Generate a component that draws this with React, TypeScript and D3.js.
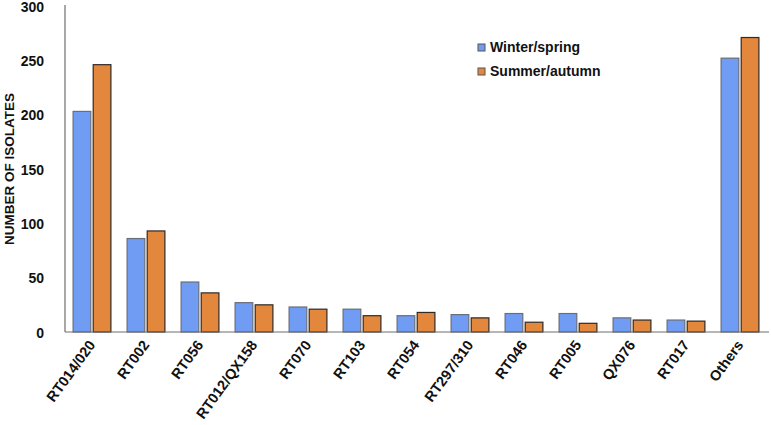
import React from "react";
import * as d3 from "d3";

const categories = ["RT014/020","RT002","RT056","RT012/QX158","RT070","RT103","RT054","RT297/310","RT046","RT005","QX076","RT017","Others"];
const winterSpring = [203,86,46,27,23,21,15,16,17,17,13,11,252];
const summerAutumn = [246,93,36,25,21,15,18,13,9,8,11,10,271];
const seriesNames = ["Winter/spring","Summer/autumn"];
const yTicks = [0,50,100,150,200,250,300];

const W = 771, H = 425;
const left = 65, right = 767, top = 6, bottom = 332;
const font = "Liberation Sans, Arial, sans-serif";

export default function App() {
  const x0 = d3.scaleBand<string>().domain(categories).range([left, right]).paddingInner(0.3).paddingOuter(0.15);
  const x1 = d3.scaleBand<string>().domain(seriesNames).range([0, x0.bandwidth()]).paddingInner(0.12);
  const y = d3.scaleLinear().domain([0, 300]).range([bottom, top]);
  const fills = ["#709cf3", "#e3873c"];
  const strokes = ["#6a6e78", "#2e2a26"];
  const data = [winterSpring, summerAutumn];
  return (
    <div style={{ position: "absolute", left: 0, top: 0 }}>
      <svg width={W} height={H} style={{ display: "block", background: "#fff" }}>
        {categories.map((c, i) => (
          <g key={c}>
            {data.map((s, k) => (
              <rect key={k}
                x={(x0(c) as number) + (x1(seriesNames[k]) as number)}
                y={y(s[i])}
                width={x1.bandwidth()}
                height={bottom - y(s[i])}
                fill={fills[k]} stroke={strokes[k]} strokeWidth={1.2} />
            ))}
          </g>
        ))}
        <line x1={left} x2={left} y1={top - 1} y2={bottom} stroke="#6e6e6e" strokeWidth={1.2} />
        <line x1={left} x2={769} y1={bottom} y2={bottom} stroke="#6e6e6e" strokeWidth={1.2} />
        {yTicks.map(t => (
          <text key={t} x={44} y={y(t) + 5.5} textAnchor="end" fontFamily={font} fontWeight="bold" fontSize={14} fill="#111">{t}</text>
        ))}
        <text transform={`translate(13.5,${(top + bottom) / 2}) rotate(-90)`} textAnchor="middle" fontFamily={font} fontWeight="bold" fontSize={13.5} fill="#111">NUMBER OF ISOLATES</text>
        {categories.map(c => {
          const cx = (x0(c) as number) + x0.bandwidth() / 2 + 4;
          return (
            <text key={c} transform={`translate(${cx},${bottom + 13}) rotate(-54)`} textAnchor="end" fontFamily={font} fontWeight="bold" fontSize={14.5} fill="#111">{c}</text>
          );
        })}
        {seriesNames.map((n, k) => (
          <g key={n} transform={`translate(478,${44 + k * 24})`}>
            <rect x={0} y={0} width={7} height={7} fill={fills[k]} stroke="#555" strokeWidth={1} />
            <text x={12} y={8} fontFamily={font} fontWeight="bold" fontSize={14} fill="#111">{n}</text>
          </g>
        ))}
      </svg>
    </div>
  );
}
